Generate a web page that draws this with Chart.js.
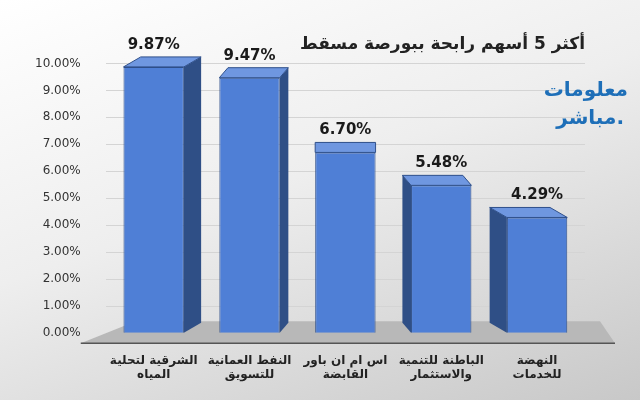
<!DOCTYPE html>
<html>
<head>
<meta charset="utf-8">
<script src="https://cdn.jsdelivr.net/npm/chart.js@4"></script>
<style>
  html, body { margin: 0; padding: 0; }
  body {
    width: 640px; height: 400px;
    background: linear-gradient(160deg, #ffffff 0%, #eeeeee 45%, #c8c8c8 100%);
    font-family: "DejaVu Sans", Arial, sans-serif;
  }
  #wrap { position: relative; width: 640px; height: 400px; }
</style>
</head>
<body>
<div id="wrap"><canvas id="chart" width="640" height="400"></canvas></div>
<script>
const categories = [
    ['الشرقية لتحلية', 'المياه'],
    ['النفط العمانية', 'للتسويق'],
    ['اس ام ان باور', 'القابضة'],
    ['الباطنة للتنمية', 'والاستثمار'],
    ['النهضة', 'للخدمات']
];
const gains = [9.87, 9.47, 6.70, 5.48, 4.29];
const chartTitle = 'أكثر 5 أسهم رابحة ببورصة مسقط';

/* =========================
   3D LOOK + FLOOR + LOGO
========================= */

const depthPlugin = {
    id: 'depth',
    beforeDatasetsDraw(chart) {
        const { ctx, chartArea } = chart;
        const y0 = chart.scales.y.getPixelForValue(0);
        ctx.save();
        ctx.fillStyle = '#b8b8b8';
        ctx.beginPath();
        ctx.moveTo(chartArea.left + 30, y0 - 12);
        ctx.lineTo(chartArea.right + 15, y0 - 12);
        ctx.lineTo(chartArea.right + 30, y0 + 10);
        ctx.lineTo(chartArea.left - 25, y0 + 10);
        ctx.closePath();
        ctx.fill();
        ctx.strokeStyle = '#555';
        ctx.lineWidth = 1.5;
        ctx.beginPath();
        ctx.moveTo(chartArea.left - 25, y0 + 10);
        ctx.lineTo(chartArea.right + 30, y0 + 10);
        ctx.stroke();
        ctx.restore();
    },
    afterDatasetsDraw(chart) {
        const { ctx } = chart;
        const meta = chart.getDatasetMeta(0);
        const mid = (chart.chartArea.left + chart.chartArea.right) / 2;
        ctx.save();
        meta.data.forEach(bar => {
            const half = bar.width / 2;
            const left = bar.x - half, right = bar.x + half;
            const dx = (mid - bar.x) * 0.09;
            const dy = -10;
            ctx.fillStyle = '#2f4f86';
            ctx.beginPath();
            if (dx > 0) {
                ctx.moveTo(right, bar.y); ctx.lineTo(right + dx, bar.y + dy);
                ctx.lineTo(right + dx, bar.base + dy); ctx.lineTo(right, bar.base);
            } else {
                ctx.moveTo(left, bar.y); ctx.lineTo(left + dx, bar.y + dy);
                ctx.lineTo(left + dx, bar.base + dy); ctx.lineTo(left, bar.base);
            }
            ctx.closePath(); ctx.fill();
            ctx.fillStyle = '#6f97e0';
            ctx.strokeStyle = '#2e4f8a';
            ctx.lineWidth = 1;
            ctx.beginPath();
            ctx.moveTo(left, bar.y); ctx.lineTo(left + dx, bar.y + dy);
            ctx.lineTo(right + dx, bar.y + dy); ctx.lineTo(right, bar.y);
            ctx.closePath(); ctx.fill(); ctx.stroke();
        });
        ctx.restore();
    },
    afterDraw(chart) {
        const { ctx } = chart;
        const meta = chart.getDatasetMeta(0);
        ctx.save();
        ctx.fillStyle = '#1a1a1a';
        ctx.font = 'bold 15px "DejaVu Sans", sans-serif';
        ctx.textAlign = 'center';
        meta.data.forEach((bar, i) => {
            ctx.fillText(gains[i].toFixed(2) + '%', bar.x, bar.y - 18);
        });
        ctx.fillStyle = '#1e6fb8';
        ctx.font = 'bold 20px "DejaVu Sans", sans-serif';
        ctx.textAlign = 'right';
        ctx.fillText('معلومات', 628, 96);
        ctx.fillText('مباشر.', 624, 124);
        ctx.restore();
    }
};

new Chart(document.getElementById('chart').getContext('2d'), {

    type: 'bar',

    data: {
        labels: categories,
        datasets: [{
            data: gains,
            backgroundColor: '#4f7fd6',
            borderColor: '#2e4f8a',
            borderWidth: 1,
            categoryPercentage: 0.7,
            barPercentage: 0.9
        }]
    },

    plugins: [depthPlugin],

    options: {
        responsive: false,
        animation: false,
        devicePixelRatio: 1,
        layout: { padding: { left: 10, right: 55, top: 14, bottom: 6 } },
        plugins: {
            legend: { display: false },
            tooltip: { enabled: false },
            title: {
                display: true,
                text: chartTitle,
                align: 'end',
                color: '#222',
                font: { size: 17, weight: 'bold', family: '"DejaVu Sans", sans-serif' },
                padding: { top: 20, bottom: 9 }
            }
        },
        scales: {
            x: {
                grid: { display: false },
                border: { display: false },
                ticks: {
                    color: '#222',
                    autoSkip: false,
                    font: { size: 12, weight: 'bold', family: '"DejaVu Sans", sans-serif' },
                    padding: 12,
                    maxRotation: 0
                }
            },
            y: {
                min: 0,
                max: 10,
                ticks: {
                    stepSize: 1,
                    color: '#333',
                    font: { size: 12, family: '"DejaVu Sans", sans-serif' },
                    padding: 25,
                    callback: v => v.toFixed(2) + '%'
                },
                grid: { color: '#d4d4d4', drawTicks: false },
                border: { display: false }
            }
        }
    }
});
</script>
</body>
</html>
